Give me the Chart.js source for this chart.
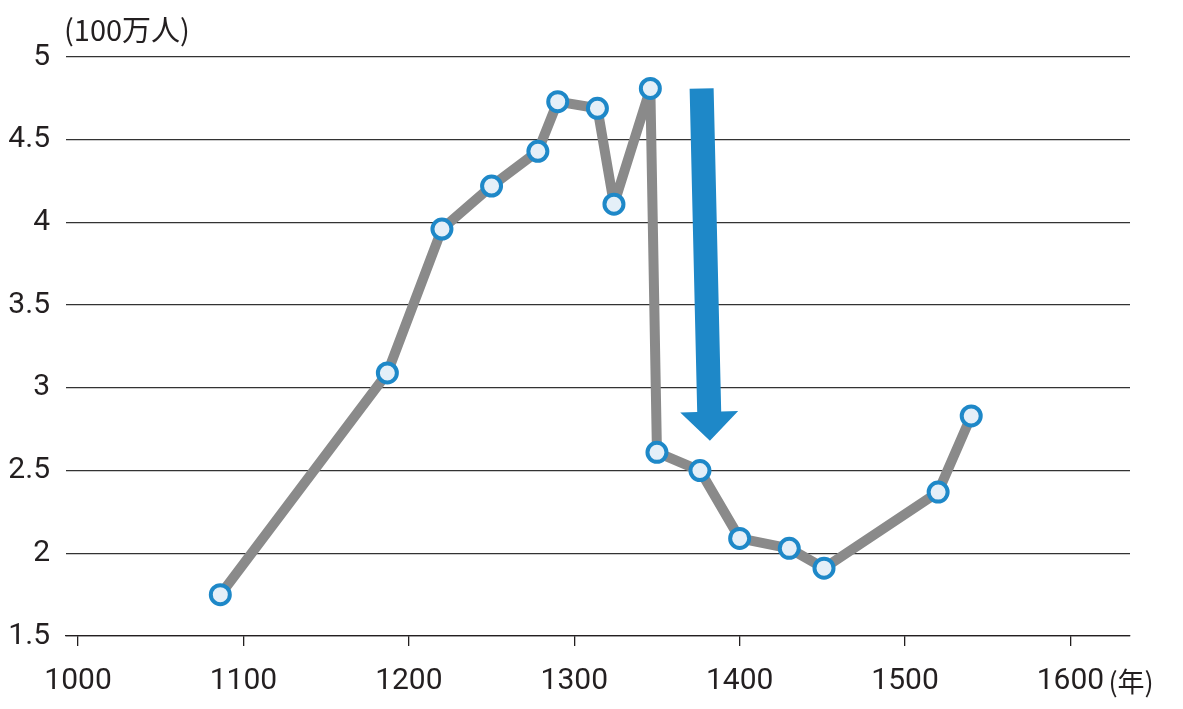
<!DOCTYPE html>
<html>
<head>
<meta charset="utf-8">
<script src="https://cdn.jsdelivr.net/npm/chart.js@4.4.1/dist/chart.umd.min.js"></script>
<style>
html, body { margin: 0; padding: 0; background: #fff; }
#wrap { width: 1183px; height: 709px; position: relative; }
</style>
</head>
<body>
<div id="wrap"><canvas id="popChart"></canvas></div>
<script>
// population (millions) by year
const years = [1086, 1187, 1220, 1250, 1278, 1290, 1314, 1324, 1346, 1350, 1376, 1400, 1430, 1451, 1520, 1540];
const population = [1.75, 3.09, 3.96, 4.22, 4.43, 4.73, 4.69, 4.11, 4.81, 2.61, 2.50, 2.09, 2.03, 1.91, 2.37, 2.83];
const xTicks = [1000, 1100, 1200, 1300, 1400, 1500, 1600];
const yTicks = [1.5, 2, 2.5, 3, 3.5, 4, 4.5, 5];
const yUnit = '(100万人)';
const xUnit = '(年)';
// big drop arrow, in data units (start / tip)
const arrowFrom = { x: 1377, y: 4.81 };
const arrowTo = { x: 1382, y: 2.68 };

const textColor = '#231f20';
const blue = '#1e88c8';
const numFont = 'Roboto, "DejaVu Sans", sans-serif';
const cjkFont = '"Noto Sans CJK JP", "Noto Sans", sans-serif';

let extras = {
	id: 'extras',
	afterDatasetsDraw: function(chart) {
		let ctx = chart.ctx;
		let xs = chart.scales.x, ys = chart.scales.y;
		let x1 = xs.getPixelForValue(arrowFrom.x), y1 = ys.getPixelForValue(arrowFrom.y);
		let x2 = xs.getPixelForValue(arrowTo.x), y2 = ys.getPixelForValue(arrowTo.y);
		let shaftHalf = 12, headHalf = 29, headLen = 29;
		let dx = x2 - x1, dy = y2 - y1;
		let len = Math.sqrt(dx * dx + dy * dy);
		let ux = dx / len, uy = dy / len;
		let px = -uy, py = ux;
		let bx = x2 - ux * headLen, by = y2 - uy * headLen;
		ctx.save();
		ctx.fillStyle = blue;
		ctx.beginPath();
		ctx.moveTo(x1 + px * shaftHalf, y1 + py * shaftHalf);
		ctx.lineTo(bx + px * shaftHalf, by + py * shaftHalf);
		ctx.lineTo(bx + px * headHalf, by + py * headHalf);
		ctx.lineTo(x2, y2);
		ctx.lineTo(bx - px * headHalf, by - py * headHalf);
		ctx.lineTo(bx - px * shaftHalf, by - py * shaftHalf);
		ctx.lineTo(x1 - px * shaftHalf, y1 - py * shaftHalf);
		ctx.closePath();
		ctx.fill();
		ctx.restore();
	},
	afterDraw: function(chart) {
		let ctx = chart.ctx;
		let xs = chart.scales.x;
		ctx.save();
		ctx.fillStyle = textColor;
		ctx.textBaseline = 'middle';
		ctx.font = '29px ' + cjkFont;
		ctx.textAlign = 'left';
		ctx.fillText(yUnit, 64, 30);
		ctx.font = '27px ' + cjkFont;
		let lastX = xs.getPixelForValue(xTicks[xTicks.length - 1]);
		ctx.fillText(xUnit, lastX + 38, 682);
		ctx.restore();
	}
};

let config = {
	type: 'line',
	data: {
		datasets: [{
			data: years.map((y, i) => ({ x: y, y: population[i] })),
			borderColor: '#8a8a8a',
			borderWidth: 10,
			borderJoinStyle: 'round',
			borderCapStyle: 'round',
			pointRadius: 9.5,
			pointBorderWidth: 4,
			pointBorderColor: blue,
			pointBackgroundColor: '#e4eff8',
			tension: 0
		}]
	},
	options: {
		responsive: true,
		maintainAspectRatio: false,
		animation: false,
		layout: { padding: { top: 57, right: 53, left: 0, bottom: 0 } },
		plugins: { legend: { display: false }, tooltip: { enabled: false } },
		scales: {
			x: {
				type: 'linear',
				min: 992.7,
				max: 1636,
				afterBuildTicks: function(scale) {
					scale.ticks = xTicks.map(v => ({ value: v }));
				},
				afterFit: function(scale) { scale.height = 73; },
				grid: {
					drawOnChartArea: false,
					drawTicks: true,
					tickLength: 10,
					color: textColor,
					lineWidth: 1.3
				},
				border: { display: true, color: textColor, width: 1.3 },
				ticks: {
					color: textColor,
					font: { family: numFont, size: 30 },
					padding: 17,
					maxRotation: 0,
					autoSkip: false,
					callback: v => String(v)
				}
			},
			y: {
				min: 1.5,
				max: 5,
				afterBuildTicks: function(scale) {
					scale.ticks = yTicks.map(v => ({ value: v }));
				},
				afterFit: function(scale) { scale.width = 66; },
				grid: {
					drawTicks: false,
					color: '#333333',
					lineWidth: 1.3
				},
				border: { display: false },
				ticks: {
					color: textColor,
					font: { family: numFont, size: 30 },
					padding: 16,
					callback: v => String(v)
				}
			}
		}
	},
	plugins: [extras]
};

new Chart(document.getElementById('popChart'), config);
</script>
</body>
</html>
